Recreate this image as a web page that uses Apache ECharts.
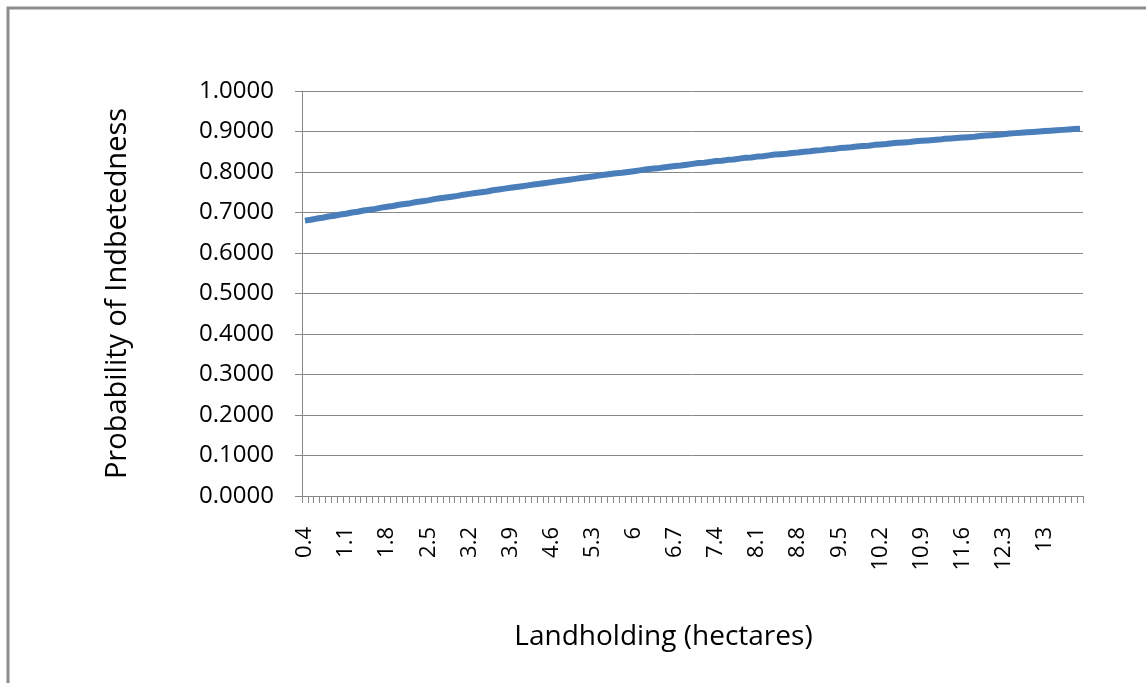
<!DOCTYPE html>
<html>
<head>
<meta charset="utf-8">
<script src="https://cdn.jsdelivr.net/npm/echarts@6/dist/echarts.min.js"></script>
<style>
  html, body { margin: 0; padding: 0; background: #fff; }
  #main { width: 1146px; height: 683px; }
</style>
</head>
<body>
<div id="main"></div>
<script>
// landholding categories (hectares)
var landholding = [
  0.4, 0.5, 0.6, 0.7, 0.8, 0.9, 1, 1.1, 1.2, 1.3,
  1.4, 1.5, 1.6, 1.7, 1.8, 1.9, 2, 2.1, 2.2, 2.3,
  2.4, 2.5, 2.6, 2.7, 2.8, 2.9, 3, 3.1, 3.2, 3.3,
  3.4, 3.5, 3.6, 3.7, 3.8, 3.9, 4, 4.1, 4.2, 4.3,
  4.4, 4.5, 4.6, 4.7, 4.8, 4.9, 5, 5.1, 5.2, 5.3,
  5.4, 5.5, 5.6, 5.7, 5.8, 5.9, 6, 6.1, 6.2, 6.3,
  6.4, 6.5, 6.6, 6.7, 6.8, 6.9, 7, 7.1, 7.2, 7.3,
  7.4, 7.5, 7.6, 7.7, 7.8, 7.9, 8, 8.1, 8.2, 8.3,
  8.4, 8.5, 8.6, 8.7, 8.8, 8.9, 9, 9.1, 9.2, 9.3,
  9.4, 9.5, 9.6, 9.7, 9.8, 9.9, 10, 10.1, 10.2, 10.3,
  10.4, 10.5, 10.6, 10.7, 10.8, 10.9, 11, 11.1, 11.2, 11.3,
  11.4, 11.5, 11.6, 11.7, 11.8, 11.9, 12, 12.1, 12.2, 12.3,
  12.4, 12.5, 12.6, 12.7, 12.8, 12.9, 13, 13.1, 13.2, 13.3,
  13.4, 13.5, 13.6
];

// probability
var probability = [
  0.680, 0.682, 0.685, 0.687, 0.690, 0.692, 0.695, 0.697, 0.700, 0.702,
  0.705, 0.707, 0.709, 0.712, 0.714, 0.716, 0.719, 0.721, 0.723, 0.726,
  0.728, 0.730, 0.733, 0.735, 0.737, 0.739, 0.741, 0.744, 0.746, 0.748,
  0.750, 0.752, 0.755, 0.757, 0.759, 0.761, 0.763, 0.765, 0.767, 0.769,
  0.771, 0.773, 0.775, 0.777, 0.779, 0.781, 0.783, 0.785, 0.787, 0.789,
  0.791, 0.793, 0.795, 0.797, 0.798, 0.800, 0.802, 0.804, 0.806, 0.808,
  0.809, 0.811, 0.813, 0.815, 0.816, 0.818, 0.820, 0.822, 0.823, 0.825,
  0.827, 0.828, 0.830, 0.831, 0.833, 0.835, 0.836, 0.838, 0.839, 0.841,
  0.843, 0.844, 0.845, 0.847, 0.848, 0.850, 0.851, 0.853, 0.854, 0.856,
  0.857, 0.859, 0.860, 0.861, 0.863, 0.864, 0.865, 0.867, 0.868, 0.869,
  0.871, 0.872, 0.873, 0.874, 0.876, 0.877, 0.878, 0.879, 0.880, 0.882,
  0.883, 0.884, 0.885, 0.886, 0.887, 0.889, 0.890, 0.891, 0.892, 0.893,
  0.895, 0.896, 0.897, 0.898, 0.899, 0.900, 0.901, 0.902, 0.903, 0.904,
  0.905, 0.906, 0.907
];

var yMin = 0, yMax = 1, yStep = 0.1;

var font = '"Open Sans", "Liberation Sans", sans-serif';
var myChart = echarts.init(document.getElementById('main'));

var option = {
  animation: false,
  textStyle: { fontFamily: font, color: '#000' },
  graphic: [{
    type: 'rect',
    shape: { x: 8, y: 8, width: 1200, height: 800 },
    style: { fill: 'none', stroke: '#8c8c8c', lineWidth: 3 },
    silent: true
  }],
  grid: { left: 302, right: 63, top: 91, bottom: 187 },
  xAxis: {
    type: 'category',
    data: landholding,
    boundaryGap: true,
    name: 'Landholding (hectares)',
    nameLocation: 'middle',
    nameGap: 127,
    nameTextStyle: { fontSize: 28, color: '#000', fontFamily: font, padding: [0, 58, 0, 0] },
    axisLine: { lineStyle: { color: '#888', width: 1 } },
    axisTick: { show: true, interval: 0, length: 7, lineStyle: { color: '#888' } },
    axisLabel: {
      interval: 6,
      rotate: 90,
      margin: 31,
      fontSize: 22,
      color: '#000',
      fontFamily: font
    },
    splitLine: { show: false }
  },
  yAxis: {
    type: 'value',
    min: yMin,
    max: yMax,
    interval: yStep,
    name: 'Probability of Indbetedness',
    nameLocation: 'middle',
    nameRotate: 90,
    nameGap: 170,
    nameTextStyle: { fontSize: 29, color: '#000', fontFamily: font },
    axisLine: { show: true, lineStyle: { color: '#888', width: 1 } },
    axisTick: { show: true, length: 7, lineStyle: { color: '#888' } },
    axisLabel: {
      margin: 28,
      fontSize: 24,
      color: '#000',
      fontFamily: font,
      formatter: function (v) { return v.toFixed(4); }
    },
    splitLine: { show: true, lineStyle: { color: '#888', width: 1 } }
  },
  series: [{
    name: 'Probability',
    type: 'line',
    data: probability,
    symbol: 'none',
    smooth: false,
    lineStyle: { color: '#4a7ebb', width: 6 }
  }]
};

myChart.setOption(option);
</script>
</body>
</html>
